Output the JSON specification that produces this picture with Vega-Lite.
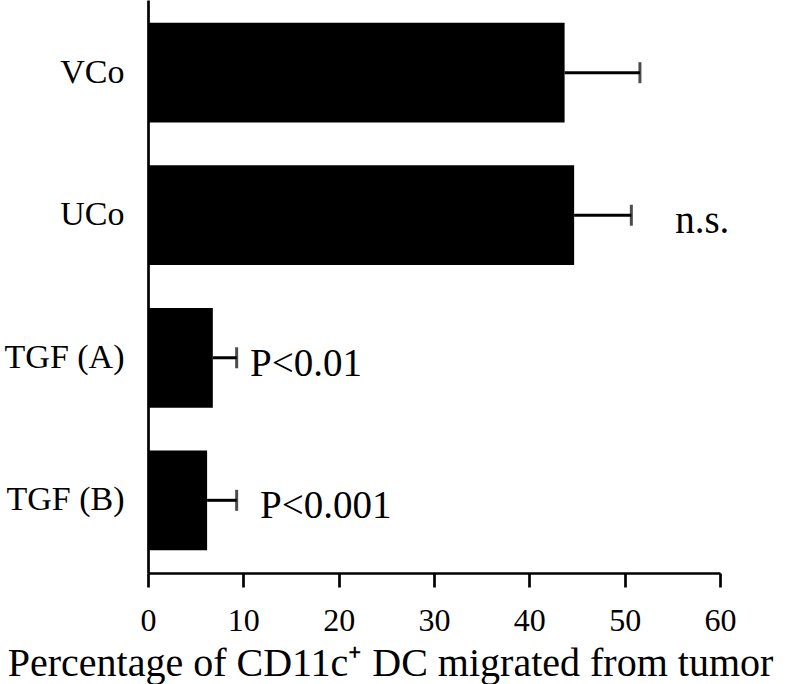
{
  "$schema": "https://vega.github.io/schema/vega-lite/v6.json",
  "width": 572,
  "height": 573,
  "autosize": "none",
  "padding": {"left": 148, "top": 0, "right": 67, "bottom": 111},
  "background": "white",
  "config": {"view": {"stroke": null}, "font": "Liberation Serif"},
  "data": {
    "values": [
      {"group": "VCo", "mean": 43.7, "upper": 51.6, "note": "", "noteX": 0},
      {"group": "UCo", "mean": 44.7, "upper": 50.7, "note": "n.s.", "noteX": 55.3},
      {"group": "TGF (A)", "mean": 6.8, "upper": 9.3, "note": "P<0.01", "noteX": 10.7},
      {"group": "TGF (B)", "mean": 6.2, "upper": 9.3, "note": "P<0.001", "noteX": 11.75}
    ]
  },
  "encoding": {
    "y": {
      "field": "group",
      "type": "nominal",
      "sort": null,
      "scale": {"paddingInner": 0.3, "paddingOuter": 0.16},
      "axis": {
        "title": null,
        "domain": true,
        "domainColor": "black",
        "domainWidth": 2.7,
        "ticks": false,
        "labelFontSize": 34,
        "labelColor": "black",
        "labelPadding": 24,
        "labelFont": "Liberation Serif",
        "labelLimit": 0
      }
    }
  },
  "layer": [
    {
      "mark": {"type": "bar", "color": "black"},
      "encoding": {
        "x": {
          "field": "mean",
          "type": "quantitative",
          "scale": {"domain": [0, 60], "nice": false, "zero": true},
          "axis": {
            "title": "Percentage of CD11c⁺ DC migrated from tumor",
            "values": [0, 10, 20, 30, 40, 50, 60],
            "grid": false,
            "domainColor": "black",
            "domainWidth": 2.7,
            "tickColor": "black",
            "tickWidth": 2.7,
            "tickSize": 14,
            "labelFontSize": 32,
            "labelColor": "black",
            "labelPadding": 18,
            "labelFont": "Liberation Serif",
            "labelFlush": false,
            "titleFont": "Liberation Serif",
            "titleFontSize": 40,
            "titleFontWeight": "normal",
            "titleColor": "black",
            "titleX": 242,
            "titleY": 102,
            "titleBaseline": "alphabetic",
            "titleAlign": "center"
          }
        }
      }
    },
    {
      "mark": {"type": "rule", "strokeWidth": 3, "color": "black"},
      "encoding": {
        "x": {"field": "mean", "type": "quantitative"},
        "x2": {"field": "upper"}
      }
    },
    {
      "mark": {"type": "tick", "orient": "vertical", "size": 21, "thickness": 3, "color": "black"},
      "encoding": {"x": {"field": "upper", "type": "quantitative"}}
    },
    {
      "transform": [{"filter": "datum.note != ''"}],
      "mark": {"type": "text", "align": "left", "baseline": "middle", "fontSize": 39, "dy": 6, "color": "black", "font": "Liberation Serif"},
      "encoding": {
        "x": {"field": "noteX", "type": "quantitative"},
        "text": {"field": "note"}
      }
    }
  ]
}
